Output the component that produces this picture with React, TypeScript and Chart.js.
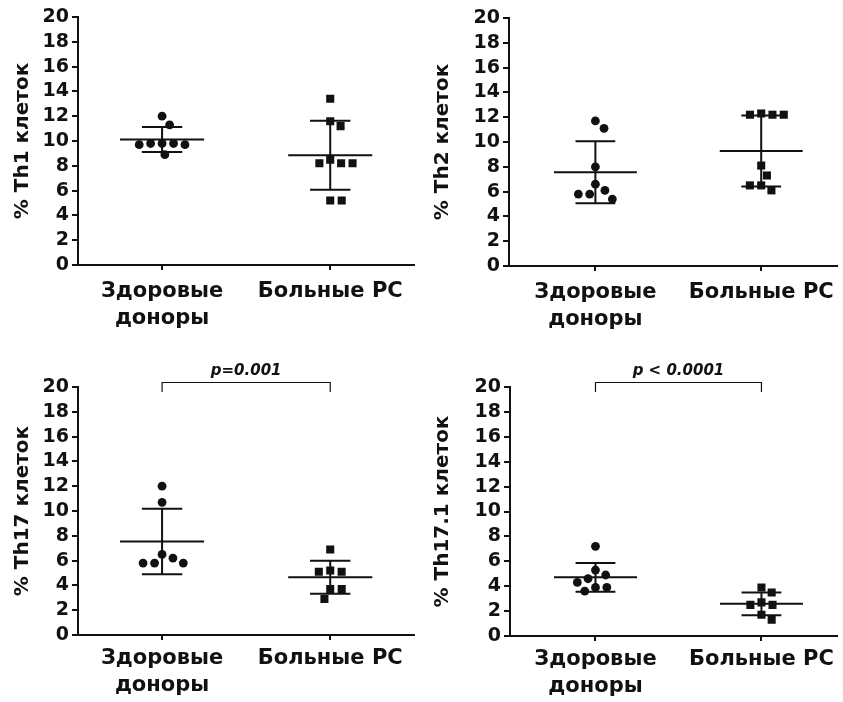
import React, { useEffect, useRef } from 'react';
import { Chart, registerables } from 'chart.js';

Chart.register(...registerables);

// ---------- data ----------
const categories: string[][] = [['Здоровые', 'доноры'], ['Больные РС']];
const yMin = 0;
const yMax = 20;
const yStep = 2;

const th1Healthy = [12.0, 11.3, 9.8, 9.7, 9.8, 9.8, 9.7, 8.9];
const th1Patients = [13.4, 11.6, 11.2, 8.5, 8.2, 8.2, 8.2, 5.2, 5.2];
const th2Healthy = [11.7, 11.1, 8.0, 6.6, 6.1, 5.8, 5.8, 5.4];
const th2Patients = [12.2, 12.2, 12.2, 12.3, 8.1, 7.3, 6.5, 6.5, 6.1];
const th17Healthy = [12.0, 10.7, 6.5, 6.2, 5.8, 5.8, 5.8];
const th17Patients = [6.9, 5.2, 5.1, 5.1, 3.7, 3.7, 2.9];
const th171Healthy = [7.2, 5.3, 4.9, 4.6, 4.3, 3.9, 3.9, 3.6];
const th171Patients = [3.9, 3.5, 2.7, 2.5, 2.5, 1.7, 1.3];

const yTitles = ['% Th1 клеток', '% Th2 клеток', '% Th17 клеток', '% Th17.1 клеток'];
const pLabels: (string | null)[] = [null, null, 'p=0.001', 'p < 0.0001'];

// ---------- styling / layout constants ----------
const FONT = "'DejaVu Sans', 'Liberation Sans', Arial, sans-serif";
const INK = '#111';
const MEAN_HALF = 0.25; // half width of mean line, category units
const CAP_HALF = 0.12; // half width of SD caps
const PX_PER_Y = 12.4;
const PX_PER_X = 168.5;
const MIN_GAP = 11.5;

type Panel = {
  groups: number[][];
  title: string;
  p: string | null;
  left: number; top: number; width: number; height: number;
  yAxisWidth: number; padTop: number; padRight: number; xAxisHeight: number;
  xMin: number; xMax: number; labelPad: number;
};

const panels: Panel[] = [
  { groups: [th1Healthy, th1Patients], title: yTitles[0], p: pLabels[0],
    left: 0, top: 0, width: 420, height: 350, yAxisWidth: 78, padTop: 17, padRight: 4, xAxisHeight: 85, xMin: -0.5, xMax: 1.5, labelPad: 8 },
  { groups: [th2Healthy, th2Patients], title: yTitles[1], p: pLabels[1],
    left: 420, top: 0, width: 423, height: 350, yAxisWidth: 89, padTop: 18, padRight: 1, xAxisHeight: 84, xMin: -0.521, xMax: 1.457, labelPad: 8 },
  { groups: [th17Healthy, th17Patients], title: yTitles[2], p: pLabels[2],
    left: 0, top: 350, width: 420, height: 352, yAxisWidth: 78, padTop: 37, padRight: 4, xAxisHeight: 67, xMin: -0.5, xMax: 1.5, labelPad: 5 },
  { groups: [th171Healthy, th171Patients], title: yTitles[3], p: pLabels[3],
    left: 420, top: 350, width: 423, height: 352, yAxisWidth: 90, padTop: 37, padRight: 1, xAxisHeight: 66, xMin: -0.515, xMax: 1.457, labelPad: 5 },
];

function mean(v: number[]) { return v.reduce((a, b) => a + b, 0) / v.length; }
function sd(v: number[]) {
  const m = mean(v);
  return Math.sqrt(v.reduce((a, b) => a + (b - m) * (b - m), 0) / (v.length - 1));
}

// beeswarm-like horizontal spreading of points with close values
function swarm(values: number[]): number[] {
  const order = values.map((_, i) => i).sort((a, b) => values[b] - values[a]);
  const placed: { x: number; y: number }[] = [];
  const out = new Array(values.length).fill(0);
  for (const i of order) {
    const y = values[i] * PX_PER_Y;
    const near = placed
      .filter((p) => Math.abs(p.y - y) < MIN_GAP)
      .map((p) => {
        const h = Math.sqrt(MIN_GAP * MIN_GAP - (p.y - y) * (p.y - y));
        return { lo: p.x - h, hi: p.x + h, x: p.x };
      });
    const cands = [0];
    near.forEach((n) => cands.push(n.lo, n.hi));
    const ok = cands.filter((c) => near.every((n) => c <= n.lo + 1e-6 || c >= n.hi - 1e-6));
    const bal = near.reduce((s, n) => s + n.x, 0);
    ok.sort((a, b) => {
      const d = Math.abs(a) - Math.abs(b);
      if (Math.abs(d) > 1e-6) return d;
      return bal > 0 ? a - b : b - a;
    });
    const x = ok[0];
    placed.push({ x, y });
    out[i] = x / PX_PER_X;
  }
  return out;
}

const statsPlugin = {
  id: 'stats',
  beforeDatasetsDraw(chart: any, _args: any, opts: any) {
    const { ctx, chartArea } = chart;
    const xs = chart.scales.x;
    const ys = chart.scales.y;
    const groups: number[][] = opts.groups || [];
    ctx.save();
    ctx.strokeStyle = INK;
    ctx.lineWidth = 2;
    ctx.lineCap = 'butt';
    groups.forEach((vals, i) => {
      const m = mean(vals);
      const s = sd(vals);
      const yM = ys.getPixelForValue(m);
      const yH = ys.getPixelForValue(m + s);
      const yL = ys.getPixelForValue(m - s);
      const cx = xs.getPixelForValue(i);
      ctx.beginPath();
      ctx.moveTo(xs.getPixelForValue(i - MEAN_HALF), yM);
      ctx.lineTo(xs.getPixelForValue(i + MEAN_HALF), yM);
      ctx.moveTo(cx, yH);
      ctx.lineTo(cx, yL);
      ctx.moveTo(xs.getPixelForValue(i - CAP_HALF), yH);
      ctx.lineTo(xs.getPixelForValue(i + CAP_HALF), yH);
      ctx.moveTo(xs.getPixelForValue(i - CAP_HALF), yL);
      ctx.lineTo(xs.getPixelForValue(i + CAP_HALF), yL);
      ctx.stroke();
    });
    if (opts.p) {
      const x0 = xs.getPixelForValue(0);
      const x1 = xs.getPixelForValue(1);
      const yb = chartArea.top - 4.5;
      ctx.lineWidth = 1.2;
      ctx.beginPath();
      ctx.moveTo(x0, chartArea.top + 5);
      ctx.lineTo(x0, yb);
      ctx.lineTo(x1, yb);
      ctx.lineTo(x1, chartArea.top + 5);
      ctx.stroke();
      ctx.fillStyle = INK;
      ctx.font = `italic bold 15px ${FONT}`;
      ctx.textAlign = 'center';
      ctx.textBaseline = 'alphabetic';
      ctx.fillText(opts.p, (x0 + x1) / 2, chartArea.top - 12);
    }
    ctx.restore();
  },
};

function PanelChart({ panel }: { panel: Panel }) {
  const ref = useRef<HTMLCanvasElement | null>(null);
  useEffect(() => {
    if (!ref.current) return;
    const datasets = panel.groups.map((vals, gi) => {
      const jit = swarm(vals);
      return {
        type: 'scatter' as const,
        data: vals.map((v, k) => ({ x: gi + jit[k], y: v })),
        pointStyle: gi === 0 ? 'circle' : 'rect',
        pointRadius: gi === 0 ? 4.4 : 5.7,
        pointHoverRadius: gi === 0 ? 4.4 : 5.7,
        backgroundColor: INK,
        borderColor: INK,
        borderWidth: 0,
      };
    });
    const chart = new Chart(ref.current, {
      type: 'scatter',
      data: { datasets: datasets as any },
      plugins: [statsPlugin as any],
      options: {
        animation: false,
        responsive: false,
        devicePixelRatio: 1,
        layout: { padding: { top: panel.padTop, right: panel.padRight, left: 0, bottom: 0 } },
        plugins: {
          legend: { display: false },
          tooltip: { enabled: false },
          stats: { groups: panel.groups, p: panel.p },
        } as any,
        scales: {
          x: {
            type: 'linear',
            min: panel.xMin,
            max: panel.xMax,
            afterBuildTicks: (s: any) => { s.ticks = categories.map((_, i) => ({ value: i })); },
            afterFit: (s: any) => { s.height = panel.xAxisHeight; },
            ticks: {
              autoSkip: false,
              maxRotation: 0,
              minRotation: 0,
              padding: panel.labelPad,
              color: INK,
              font: { family: FONT, size: 21, weight: 'bold', lineHeight: 1.3 },
              callback: (v: any) => categories[Math.round(Number(v))] as any,
            },
            grid: { drawOnChartArea: false, drawTicks: true, tickLength: 5, color: INK, lineWidth: 2 },
            border: { display: true, color: INK, width: 2 },
          },
          y: {
            type: 'linear',
            min: yMin,
            max: yMax,
            afterFit: (s: any) => { s.width = panel.yAxisWidth; },
            ticks: {
              stepSize: yStep,
              autoSkip: false,
              padding: 3,
              color: INK,
              font: { family: FONT, size: 19, weight: 'bold' },
            },
            grid: { drawOnChartArea: false, drawTicks: true, tickLength: 6, color: INK, lineWidth: 2 },
            border: { display: true, color: INK, width: 2 },
            title: {
              display: true,
              text: panel.title,
              color: INK,
              padding: { top: 11, bottom: 0 },
              font: { family: FONT, size: 20, weight: 'bold' },
            },
          },
        },
      } as any,
    });
    return () => chart.destroy();
  }, [panel]);
  return (
    <canvas
      ref={ref}
      width={panel.width}
      height={panel.height}
      style={{ position: 'absolute', left: panel.left, top: panel.top, width: panel.width, height: panel.height }}
    />
  );
}

export default function App() {
  return (
    <div style={{ position: 'fixed', left: 0, top: 0, width: 843, height: 702, background: '#fff', overflow: 'hidden' }}>
      {panels.map((p, i) => <PanelChart key={i} panel={p} />)}
    </div>
  );
}
